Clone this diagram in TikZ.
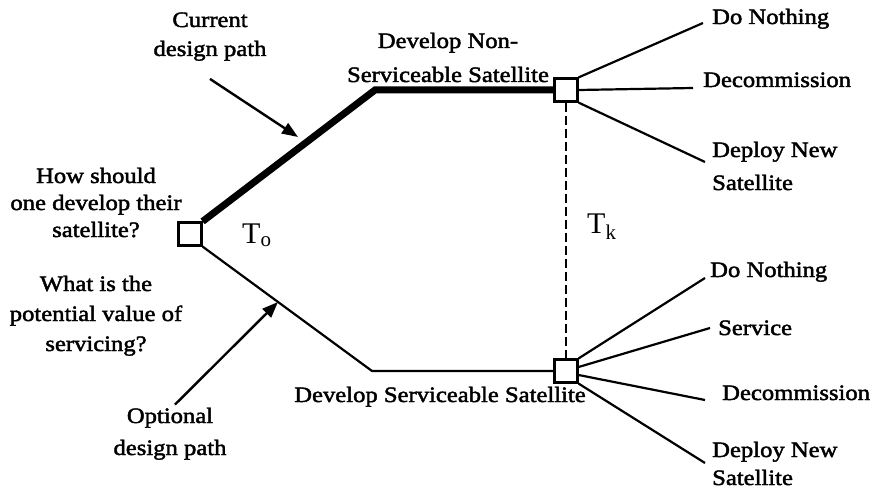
\documentclass[tikz,border=0pt]{standalone}
\usepackage{fontspec}
\setmainfont{Liberation Serif}
\newfontfamily\labfont[FakeStretch=1.12,FakeBold=2]{Liberation Serif}
\usetikzlibrary{arrows.meta,backgrounds}
\begin{document}
\begin{tikzpicture}[x=1pt,y=-1pt,
  lab/.style={font=\labfont\fontsize{22}{28}\selectfont, inner sep=0pt, align=center},
  lead/.style={font=\labfont\fontsize{22}{#1}\selectfont},
  box/.style={draw, line width=2.2pt, minimum width=23pt, minimum height=23pt, inner sep=0pt, fill=white},
  thinpath/.style={line width=2.2pt},
  thickpath/.style={line width=7pt, line join=miter},
  pointer/.style={line width=2.4pt, -{Triangle[length=16pt,width=12pt]}},
  tlab/.style={font=\fontsize{30}{30}\selectfont, inner sep=0pt}
]
\useasboundingbox (0,0) rectangle (873,492);

\node[box] (root) at (190,234) {};
\node[box] (top) at (566,90) {};
\node[box] (bot) at (566,371) {};
\coordinate (c1) at (375,90);
\coordinate (c2) at (372,371);

\coordinate (tA) at (703,23);
\coordinate (tB) at (693,88);
\coordinate (tC) at (705,162);
\coordinate (bA) at (705,278);
\coordinate (bB) at (710,328);
\coordinate (bC) at (705,400);
\coordinate (bD) at (705,463);

\begin{scope}[on background layer]
\draw[thickpath] (root.north east) -- (c1) -- (top.west);
\draw[thinpath] (root.south east) -- (c2) -- (bot.west);
\draw[line width=1.6pt, dash pattern=on 9pt off 4pt] (top.south) -- (bot.north);
\draw[thinpath] (top.north east) -- (tA);
\draw[thinpath] (top.east) -- (tB);
\draw[thinpath] (top.south east) -- (tC);
\draw[thinpath] (bot.north east) -- (bA);
\draw[thinpath] ([yshift=4pt]bot.east) -- (bB);
\draw[thinpath] ([yshift=-4pt]bot.east) -- (bC);
\draw[thinpath] (bot.south east) -- (bD);
\end{scope}

\node[lab, anchor=base west] (l1) at (712,24) {Do Nothing};
\node[lab, anchor=base west] (l2) at (703,87) {Decommission};
\node[lab, lead=33, anchor=base west, align=left] (l3) at (712,190) {Deploy New\\Satellite};
\node[lab, anchor=base west] (l4) at (710,277) {Do Nothing};
\node[lab, anchor=base west] (l5) at (718,335) {Service};
\node[lab, anchor=base west] (l6) at (722,400) {Decommission};
\node[lab, lead=28, anchor=base west, align=left] (l7) at (712,485) {Deploy New\\Satellite};

\node[lab, lead=34, anchor=base] (ns) at (448,82) {Develop Non-\\Serviceable Satellite};
\node[lab, anchor=base] (sv) at (440,402) {Develop Serviceable Satellite};

\node[lab, lead=29, anchor=base] (cur) at (210,56) {Current\\design path};
\node[lab, lead=27, anchor=base] (how) at (96,237) {How should\\one develop their\\satellite?};
\node[lab, lead=30, anchor=base] (what) at (96,351) {What is the\\potential value of\\servicing?};
\node[lab, lead=32, anchor=base] (opt) at (170,455) {Optional\\design path};

\coordinate (tipA) at (298,137);
\coordinate (tipB) at (278,302);
\draw[pointer] ([yshift=-18pt]cur.south) -- (tipA);
\draw[pointer] ([xshift=5pt,yshift=3pt]opt.north) -- (tipB);

\node[tlab, anchor=base west] (t0) at (242,243) {T\textsubscript{o}};
\node[tlab, anchor=base west] (tk) at (587,233) {T\textsubscript{k}};
\end{tikzpicture}
\end{document}
